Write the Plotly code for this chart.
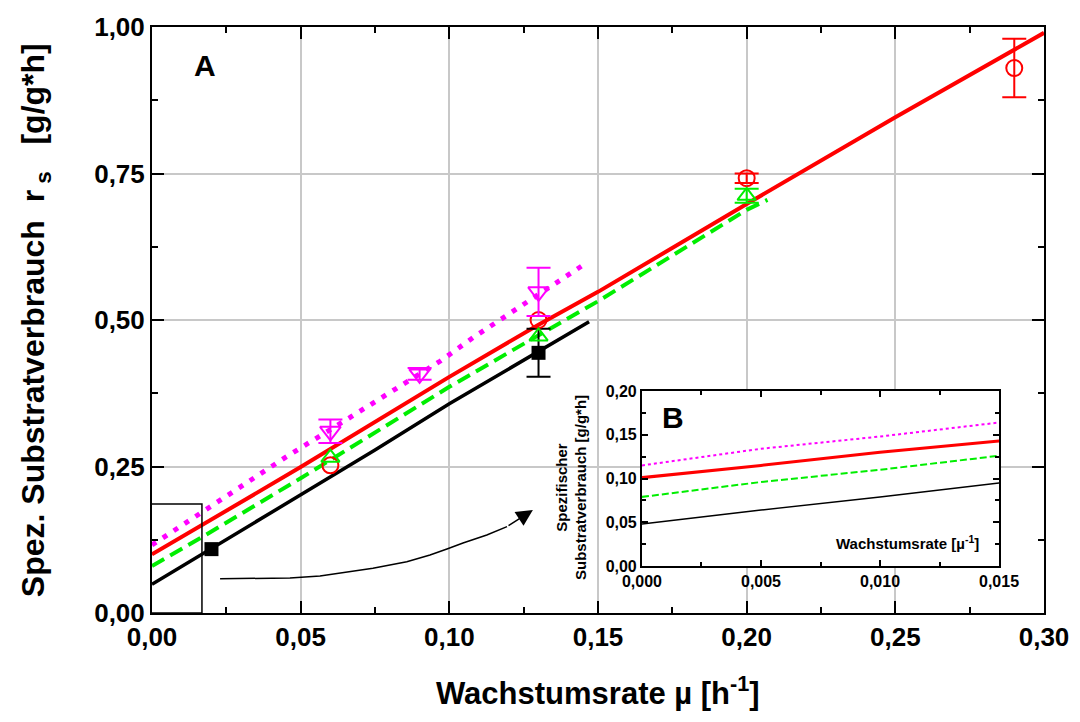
import plotly.graph_objects as go

# ---- model curves (specific substrate uptake vs. growth rate) ----
mu_black = [0.000, 0.017, 0.050, 0.075, 0.100, 0.130, 0.147]
rs_black = [0.049, 0.101, 0.201, 0.278, 0.357, 0.447, 0.497]

mu_red = [0.000, 0.017, 0.050, 0.100, 0.130, 0.150, 0.200, 0.250, 0.300]
rs_red = [0.100, 0.150, 0.249, 0.403, 0.492, 0.548, 0.698, 0.846, 0.990]

mu_green = [0.000, 0.017, 0.050, 0.100, 0.130, 0.150, 0.200, 0.207]
rs_green = [0.080, 0.130, 0.230, 0.386, 0.474, 0.532, 0.688, 0.705]

mu_magenta = [0.000, 0.017, 0.045, 0.067, 0.097, 0.108, 0.146]
rs_magenta = [0.116, 0.172, 0.266, 0.335, 0.430, 0.470, 0.597]

# ---- measured points with standard deviations (None = no bar) ----
mu_sq = [0.02, 0.13]
rs_sq = [0.109, 0.444]
err_sq = [None, 0.041]

mu_circ = [0.06, 0.13, 0.20, 0.29]
rs_circ = [0.252, 0.500, 0.742, 0.930]
err_circ = [None, None, 0.008, 0.050]

mu_tri = [0.06, 0.13, 0.20]
rs_tri = [0.265, 0.472, 0.712]
err_tri = [None, None, 0.012]

mu_dtri = [0.06, 0.09, 0.13]
rs_dtri = [0.310, 0.408, 0.548]
err_dtri = [0.020, 0.010, 0.041]

# ---- inset B: low growth-rate region ----
mu_in = [0.000, 0.005, 0.010, 0.015]
rs_in_black = [0.048, 0.064, 0.079, 0.095]
rs_in_red = [0.101, 0.115, 0.130, 0.143]
rs_in_green = [0.079, 0.096, 0.110, 0.126]
rs_in_magenta = [0.115, 0.134, 0.148, 0.164]

FONT = "Liberation Sans, Arial, sans-serif"
RED = "#ff0000"
GREEN = "#00ee00"
MAGENTA = "#ff00ff"
BLACK = "#000000"

fig = go.Figure()

# main curves
fig.add_trace(go.Scatter(x=mu_black, y=rs_black, mode="lines",
                         line=dict(color=BLACK, width=3.5)))
fig.add_trace(go.Scatter(x=mu_green, y=rs_green, mode="lines",
                         line=dict(color=GREEN, width=4, dash="14px,7px")))
fig.add_trace(go.Scatter(x=mu_magenta, y=rs_magenta, mode="lines",
                         line=dict(color=MAGENTA, width=5, dash="5px,8px")))
fig.add_trace(go.Scatter(x=mu_red, y=rs_red, mode="lines",
                         line=dict(color=RED, width=4)))


def add_points(xs, ys, errs, symbol, size, color, filled=False):
    """Markers; only points with a known deviation get an error bar."""
    marker = dict(symbol=symbol, size=size, color=color,
                  line=dict(width=0 if filled else 2, color=color))
    with_err = [(x, y, e) for x, y, e in zip(xs, ys, errs) if e is not None]
    no_err = [(x, y) for x, y, e in zip(xs, ys, errs) if e is None]
    if no_err:
        fig.add_trace(go.Scatter(x=[p[0] for p in no_err], y=[p[1] for p in no_err],
                                 mode="markers", marker=marker))
    if with_err:
        fig.add_trace(go.Scatter(
            x=[p[0] for p in with_err], y=[p[1] for p in with_err],
            mode="markers", marker=marker,
            error_y=dict(type="data", array=[p[2] for p in with_err], visible=True,
                         color=color, thickness=2, width=12)))


add_points(mu_sq, rs_sq, err_sq, "square", 14, BLACK, filled=True)
add_points(mu_circ, rs_circ, err_circ, "circle-open", 16, RED)
add_points(mu_tri, rs_tri, err_tri, "triangle-up-open", 16, GREEN)
add_points(mu_dtri, rs_dtri, err_dtri, "triangle-down-open", 18, MAGENTA)

# curved arrow from the zoom box towards the inset
arrow_x = [0.0229, 0.0464, 0.0565, 0.0632, 0.0743, 0.0857, 0.0935, 0.0992,
           0.1046, 0.1126, 0.1194]
arrow_y = [0.0585, 0.0597, 0.0631, 0.0677, 0.0763, 0.0875, 0.0990, 0.1092,
           0.1195, 0.1330, 0.1473]
fig.add_trace(go.Scatter(x=arrow_x, y=arrow_y, mode="lines",
                         line=dict(color=BLACK, width=1.5)))
fig.add_annotation(x=0.1281, y=0.1758, ax=arrow_x[-1], ay=arrow_y[-1],
                   xref="x", yref="y", axref="x", ayref="y", text="",
                   showarrow=True, arrowhead=2, arrowsize=2.2, arrowwidth=1.5,
                   arrowcolor=BLACK)

# zoom box
fig.add_shape(type="rect", xref="x", yref="y", x0=-0.0007, x1=0.0168,
              y0=0.0, y1=0.186, line=dict(color=BLACK, width=1.5))

# inset curves
fig.add_trace(go.Scatter(x=mu_in, y=rs_in_black, mode="lines", xaxis="x2", yaxis="y2",
                         line=dict(color=BLACK, width=1.5)))
fig.add_trace(go.Scatter(x=mu_in, y=rs_in_green, mode="lines", xaxis="x2", yaxis="y2",
                         line=dict(color=GREEN, width=2, dash="7px,3px")))
fig.add_trace(go.Scatter(x=mu_in, y=rs_in_magenta, mode="lines", xaxis="x2", yaxis="y2",
                         line=dict(color=MAGENTA, width=2, dash="3px,3px")))
fig.add_trace(go.Scatter(x=mu_in, y=rs_in_red, mode="lines", xaxis="x2", yaxis="y2",
                         line=dict(color=RED, width=3)))

tick_main = dict(family=FONT, size=26, color=BLACK, weight="bold")
tick_in = dict(family=FONT, size=16, color=BLACK, weight="bold")

fig.update_layout(
    width=1080, height=722,
    margin=dict(l=152, r=36, t=27, b=109),
    paper_bgcolor="white", plot_bgcolor="white",
    showlegend=False,
    separators=",.",
    xaxis=dict(range=[0, 0.30], dtick=0.05, tickformat=".2f",
               showline=True, linecolor=BLACK, linewidth=2, mirror="allticks",
               ticks="inside", ticklen=12, tickwidth=2, tickcolor=BLACK,
               showgrid=True, gridcolor="#c8c8c8", gridwidth=2, zeroline=False,
               minor=dict(dtick=0.025, ticks="inside", ticklen=6, tickwidth=2,
                          tickcolor=BLACK, showgrid=False),
               tickfont=tick_main, domain=[0, 1]),
    yaxis=dict(range=[0, 1.0], dtick=0.25, tickformat=".2f",
               showline=True, linecolor=BLACK, linewidth=2, mirror="allticks",
               ticks="inside", ticklen=12, tickwidth=2, tickcolor=BLACK,
               showgrid=True, gridcolor="#c8c8c8", gridwidth=2, zeroline=False,
               minor=dict(dtick=0.125, ticks="inside", ticklen=6, tickwidth=2,
                          tickcolor=BLACK, showgrid=False),
               tickfont=tick_main, domain=[0, 1]),
    xaxis2=dict(range=[0, 0.015], dtick=0.005, tickformat=".3f", anchor="y2",
                domain=[0.5493, 0.9496],
                showline=True, linecolor=BLACK, linewidth=2, mirror="allticks",
                ticks="inside", ticklen=6, tickwidth=1.5, tickcolor=BLACK,
                showgrid=False, zeroline=False,
                minor=dict(dtick=0.0025, ticks="inside", ticklen=4, tickwidth=1.5,
                           tickcolor=BLACK, showgrid=False),
                tickfont=tick_in),
    yaxis2=dict(range=[0, 0.20], dtick=0.05, tickformat=".2f", anchor="x2",
                domain=[0.0802, 0.3788],
                showline=True, linecolor=BLACK, linewidth=2, mirror="allticks",
                ticks="inside", ticklen=6, tickwidth=1.5, tickcolor=BLACK,
                showgrid=False, zeroline=False,
                minor=dict(dtick=0.025, ticks="inside", ticklen=4, tickwidth=1.5,
                           tickcolor=BLACK, showgrid=False),
                tickfont=tick_in),
)

fig.add_annotation(x=0.5, y=-0.133, xref="paper", yref="paper",
                   text="Wachstumsrate µ [h<sup>-1</sup>]", showarrow=False,
                   xanchor="center", yanchor="middle",
                   font=dict(family=FONT, size=31, color=BLACK, weight="bold"))
fig.add_annotation(x=-0.131, y=0.5, xref="paper", yref="paper", textangle=-90,
                   text="Spez. Substratverbrauch\u00a0\u00a0r<sub>\u00a0s</sub>\u00a0\u00a0\u00a0[g/g*h]",
                   showarrow=False, xanchor="center", yanchor="middle",
                   font=dict(family=FONT, size=32, color=BLACK, weight="bold"))

label_font = dict(family=FONT, size=30, color=BLACK, weight="bold")
fig.add_annotation(x=0.0594, y=0.935, xref="paper", yref="paper", text="A",
                   showarrow=False, xanchor="center", yanchor="middle", font=label_font)
fig.add_annotation(x=0.584, y=0.333, xref="paper", yref="paper", text="B",
                   showarrow=False, xanchor="center", yanchor="middle", font=label_font)

inset_font = dict(family=FONT, size=15, color=BLACK, weight="bold")
fig.add_annotation(x=0.9294, y=0.1195, xref="paper", yref="paper",
                   text="Wachstumsrate [µ<sup>-1</sup>]", showarrow=False,
                   xanchor="right", yanchor="middle", font=inset_font)
fig.add_annotation(x=0.4697, y=0.215, xref="paper", yref="paper", textangle=-90,
                   text="Spezifischer<br>Substratverbrauch [g/g*h]", showarrow=False,
                   xanchor="center", yanchor="middle", font=inset_font)

fig.write_html("out.html")
